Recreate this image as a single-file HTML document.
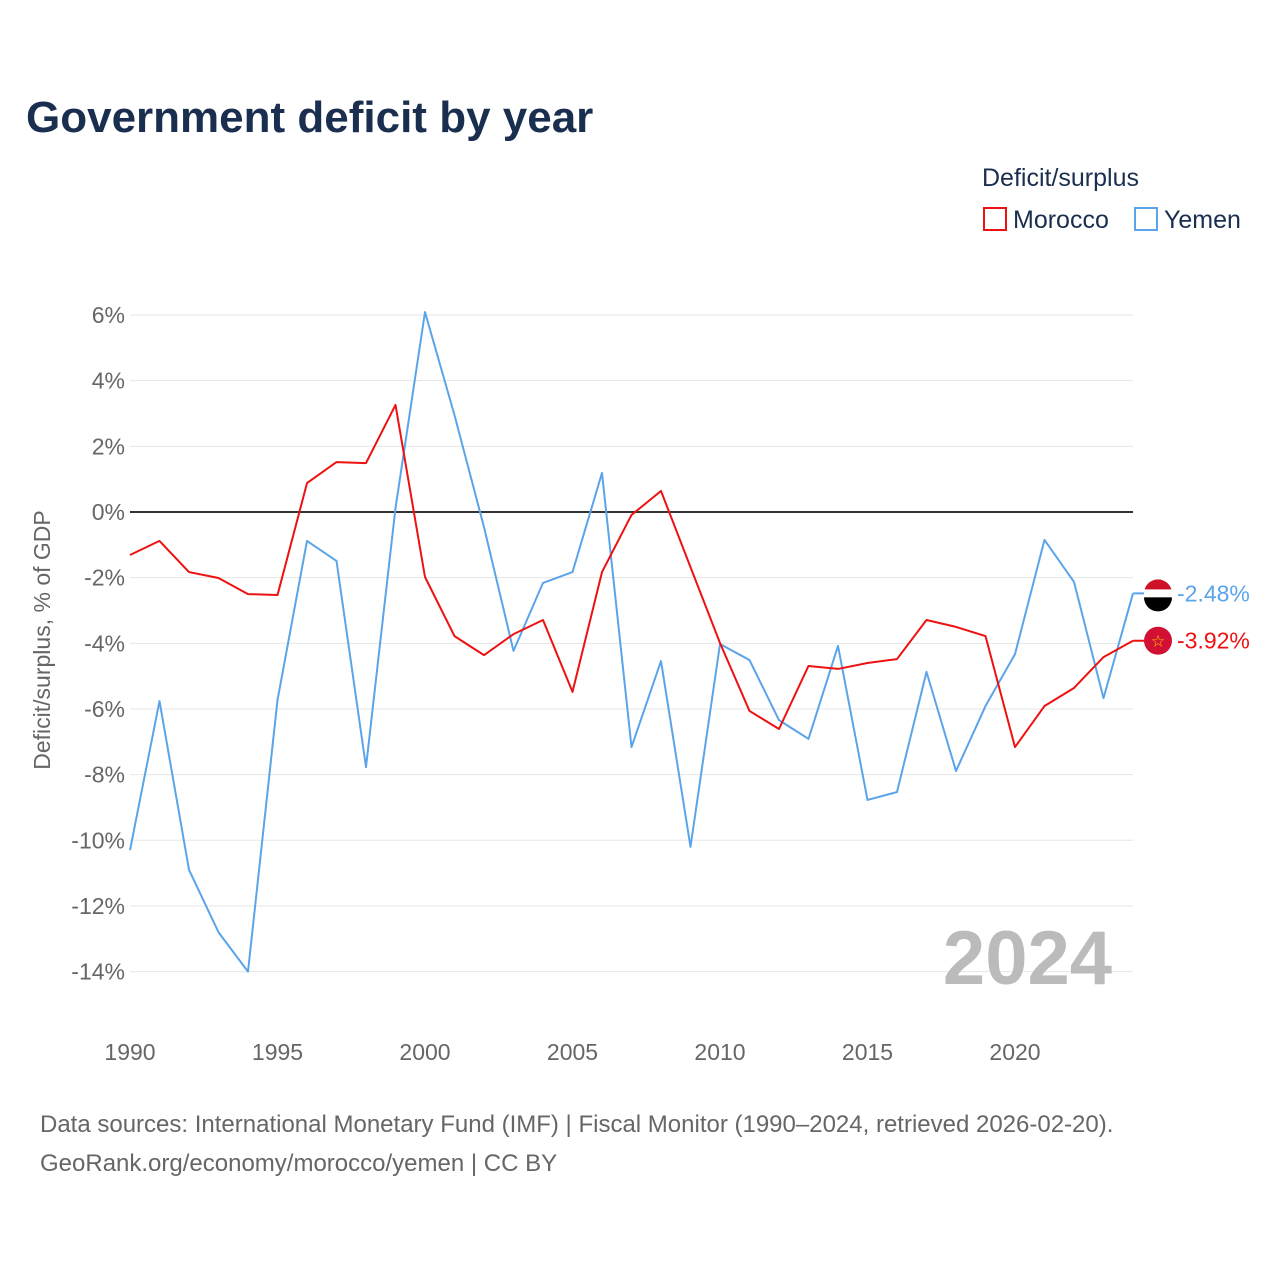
<!DOCTYPE html>
<html><head><meta charset="utf-8">
<style>
body{margin:0;background:#fff;font-family:"Liberation Sans",sans-serif;}
</style></head>
<body>
<svg id="chart" width="1280" height="1280" xmlns="http://www.w3.org/2000/svg">
<text x="26" y="132" font-size="44" font-weight="bold" fill="#1a2e4f">Government deficit by year</text>
<text x="982" y="186" font-size="25" fill="#1a2e4f">Deficit/surplus</text>
<g><rect x="984" y="208" width="22" height="22" fill="none" stroke="#ee1111" stroke-width="2"/><text x="1013" y="228" font-size="25" fill="#1a2e4f">Morocco</text></g>
<g><rect x="1135" y="208" width="22" height="22" fill="none" stroke="#5ba4ea" stroke-width="2"/><text x="1164" y="228" font-size="25" fill="#1a2e4f">Yemen</text></g>
<text transform="translate(50,640) rotate(-90)" text-anchor="middle" font-size="23" fill="#666">Deficit/surplus, % of GDP</text>
<g id="grid"></g><g id="lines"></g>
<text x="1112" y="984" text-anchor="end" font-size="76" font-weight="bold" fill="#bbb">2024</text>
<text x="40" y="1132" font-size="24" fill="#666">Data sources: International Monetary Fund (IMF) | Fiscal Monitor (1990–2024, retrieved 2026-02-20).</text>
<text x="40" y="1171" font-size="24" fill="#666">GeoRank.org/economy/morocco/yemen | CC BY</text>
</svg>
<script>
const years=[];for(let y=1990;y<=2024;y++)years.push(y);
const morocco=[-1.31,-0.88,-1.83,-2.01,-2.50,-2.53,0.88,1.52,1.49,3.26,-1.98,-3.78,-4.36,-3.72,-3.29,-5.48,-1.83,-0.09,0.64,-1.68,-3.99,-6.06,-6.61,-4.69,-4.78,-4.60,-4.48,-3.29,-3.50,-3.78,-7.16,-5.91,-5.36,-4.42,-3.92];
const yemen=[-10.3,-5.76,-10.9,-12.8,-14.0,-5.73,-0.88,-1.49,-7.77,0.12,6.09,2.95,-0.46,-4.23,-2.16,-1.83,1.19,-7.16,-4.54,-10.2,-4.02,-4.51,-6.34,-6.91,-4.08,-8.77,-8.53,-4.87,-7.89,-5.91,-4.33,-0.85,-2.13,-5.67,-2.48];
const yTicks=[-14,-12,-10,-8,-6,-4,-2,0,2,4,6];
const xTicks=[1990,1995,2000,2005,2010,2015,2020];
const X=y=>130+(y-1990)*(1133-130)/34;
const Y=v=>512-v*32.83;
const NS="http://www.w3.org/2000/svg";
const grid=document.getElementById('grid'),lines=document.getElementById('lines');
function mk(tag,attrs,parent){const e=document.createElementNS(NS,tag);for(const k in attrs)e.setAttribute(k,attrs[k]);parent.appendChild(e);return e;}
yTicks.forEach(t=>{
 const l=mk('line',{x1:130,x2:1133,y1:Y(t),y2:Y(t),stroke:t===0?'#333':'#e6e6e6','stroke-width':t===0?2:1},grid);
 
 
 const tx=mk('text',{x:125,y:Y(t)+8,'text-anchor':'end','font-size':23,fill:'#666'},grid);
 tx.textContent=t+'%';
 
 
});
xTicks.forEach(t=>{
 const tx=mk('text',{x:X(t),y:1060,'text-anchor':'middle','font-size':23,fill:'#666'},grid);
 tx.textContent=t;
 
 
});
function series(vals,color,name){
 const p=mk('polyline',{points:vals.map((v,i)=>X(years[i])+','+Y(v)).join(' '),fill:'none',stroke:color,'stroke-width':2,'stroke-linejoin':'round'},lines);
 
 
 const last=vals[vals.length-1];
 const lx=X(years[years.length-1])+25,ly=Y(last);
 mk('line',{x1:X(years[years.length-1]),x2:lx,y1:ly,y2:ly,stroke:color,'stroke-width':2},lines);
 const c=mk('circle',{cx:lx,cy:ly,r:14,fill:name==='morocco'?'#d21034':'#ce1126'},lines);
 
 
 if(name==='yemen'){mk('rect',{x:lx-14,y:ly-4,width:28,height:8,fill:'#fff'},lines);mk('path',{d:`M${lx-14},${ly+4} h28 a14,14 0 0 1 -28,0z`,fill:'#000'},lines);}
 else{const s=mk('text',{x:lx,y:ly+6,'text-anchor':'middle','font-size':16,fill:'#f5d000'},lines);s.textContent='☆';}
 const t=mk('text',{x:lx+19,y:ly+8,'font-size':23,fill:color},lines);
 t.textContent=last.toFixed(2)+'%';
 
 
}
series(yemen,'#5ba4ea','yemen');
series(morocco,'#ee1111','morocco');
</script>
</body></html>
